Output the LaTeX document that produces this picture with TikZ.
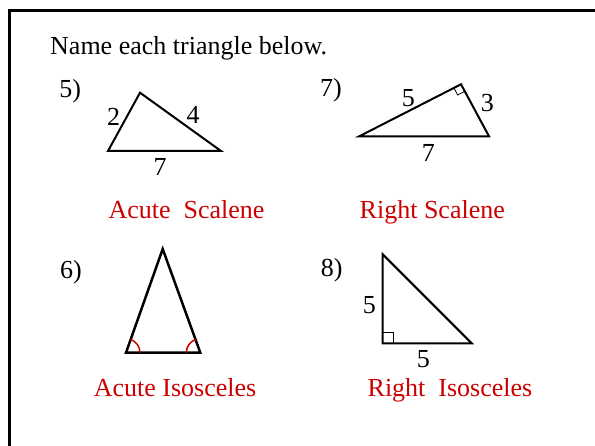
\documentclass[tikz,border=0pt]{standalone}
\usepackage{fontspec}
\setmainfont{Liberation Serif}
\usetikzlibrary{calc,angles}
\definecolor{AnswerRed}{HTML}{CC0000}

\begin{document}
\begin{tikzpicture}[x=1pt, y=1pt,
    every node/.style={font=\fontsize{26}{30}\selectfont, inner sep=0pt},
    edge/.style={line width=2pt, line join=miter},
    answer/.style={text=AnswerRed, anchor=base},
    number/.style={anchor=base west},
    rightmark/.style={line width=0.8pt}]
  \useasboundingbox (0,0) rectangle (595,446);
  % frame
  \draw[line width=2.5pt] (9.5,0) -- (9.5,435.5) -- (595,435.5);
  \node[anchor=base west] (title) at (50,391.7) {Name each triangle below.};

  % 5)
  \node[number] (n5) at (59.3,348.3) {5)};
  \coordinate (A5) at (108,295);
  \coordinate (B5) at (140,353.3);
  \coordinate (C5) at (221,295);
  \draw[edge] (A5) -- (B5) -- (C5) -- cycle;
  \node (s5a) at (113.7,329.3) {2};
  \node (s5b) at (193,331) {4};
  \node (s5c) at (160,279.3) {7};
  \node[answer] (ans5) at (186.5,227) {Acute\ \ Scalene};

  % 7)
  \node[number] (n7) at (320,349) {7)};
  \coordinate (L7) at (359.3,309.7);
  \coordinate (T7) at (461,361.7);
  \coordinate (R7) at (489,309.7);
  \draw[edge] (L7) -- (T7) -- (R7) -- cycle;
  \coordinate (m7a) at ($(T7)!8pt!(L7)$);
  \coordinate (m7b) at ($(T7)!8pt!(R7)$);
  \draw[rightmark] (m7a) -- ($(m7a)+(m7b)-(T7)$) -- (m7b);
  \node (s7a) at (408.3,348.3) {5};
  \node (s7b) at (487.3,343.3) {3};
  \node (s7c) at (428.3,292.7) {7};
  \node[answer] (ans7) at (432.3,227.7) {Right Scalene};

  % 6)
  \node[number] (n6) at (60,167.7) {6)};
  \coordinate (A6) at (162.7,197);
  \coordinate (L6) at (126,93.3);
  \coordinate (R6) at (200.3,93.3);
  \draw[edge, line width=2.5pt] (L6) -- (A6) -- (R6) -- cycle;
  \pic[draw=AnswerRed, line width=1.5pt, angle radius=14pt] {angle=R6--L6--A6};
  \pic[draw=AnswerRed, line width=1.5pt, angle radius=14pt] {angle=A6--R6--L6};
  \node[answer] (ans6) at (175,49.3) {Acute Isosceles};

  % 8)
  \node[number] (n8) at (320.7,169.3) {8)};
  \coordinate (T8) at (382.7,191.7);
  \coordinate (B8) at (382.7,102.7);
  \coordinate (R8) at (471.7,102.7);
  \draw[edge] (T8) -- (B8) -- (R8) -- cycle;
  \draw[rightmark] (B8) rectangle ++(10.5,10.5);
  \node (s8a) at (369.3,141) {5};
  \node (s8b) at (423.3,86.7) {5};
  \node[answer] (ans8) at (450,49.3) {Right\ \ Isosceles};
\end{tikzpicture}
\end{document}
